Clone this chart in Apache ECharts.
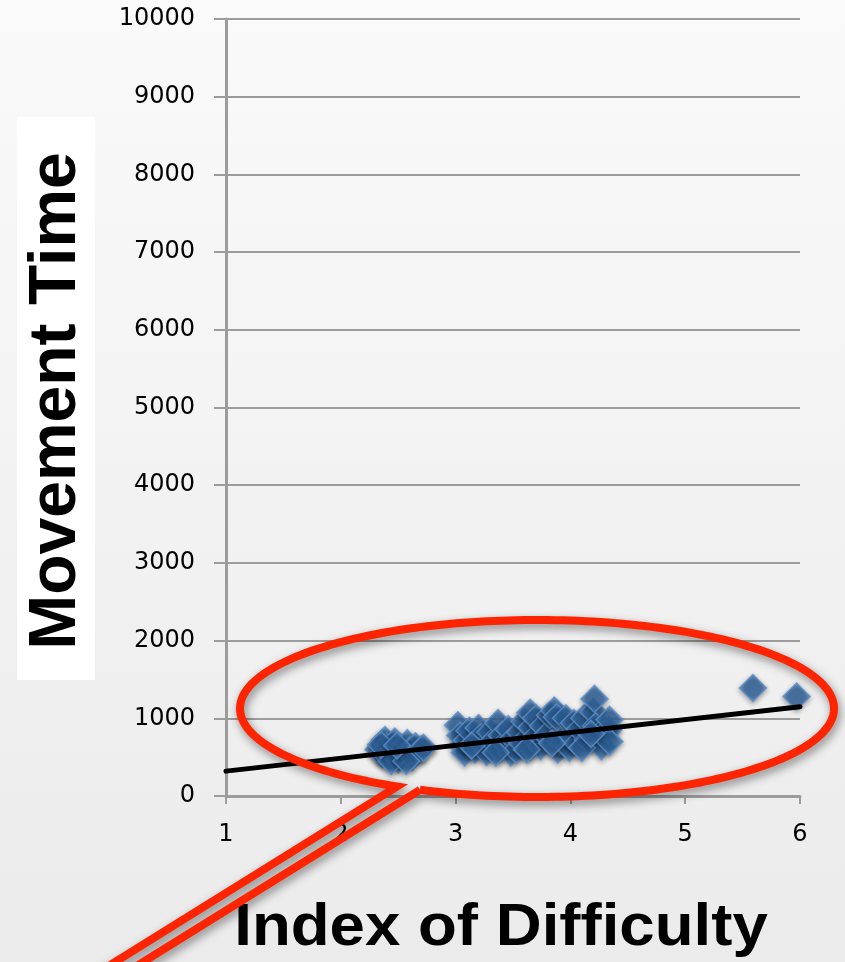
<!DOCTYPE html>
<html>
<head>
<meta charset="utf-8">
<style>html,body{margin:0;padding:0;background:#f4f4f4;}#c{width:845px;height:962px;}</style>
<script src="https://cdn.jsdelivr.net/npm/echarts@6/dist/echarts.min.js"></script>
</head>
<body>
<div id="c"></div>
<script>
// Index of Difficulty (x) vs Movement Time (y)
const groupA = [
  [2.33,600],[2.36,540],[2.385,720],[2.40,640],[2.42,500],[2.45,580],[2.47,700],[2.50,470],
  [2.52,610],[2.55,540],[2.58,680],[2.60,590],[2.62,500],[2.65,640],[2.70,600],[2.72,620],
  [2.44,450],[2.57,450],[2.35,660],[2.49,650]
];
const groupB = [
  [3.02,910],[3.04,780],[3.06,650],[3.08,560],[3.10,720],[3.12,840],
  [3.17,600],[3.20,875],[3.22,760],[3.25,640],[3.27,566],[3.30,820],[3.32,700],
  [3.37,940],[3.38,600],[3.40,780],[3.43,680],[3.46,860],[3.48,560],[3.50,740],
  [3.53,592],[3.56,820],[3.58,680],[3.60,960],[3.65,1070],[3.65,630],[3.66,880],[3.68,740],[3.70,1000],
  [3.74,640],[3.76,900],[3.79,780],[3.82,1040],[3.86,1100],[3.88,1017],[3.89,600],[3.91,700],[3.94,695],[3.96,1000],
  [3.99,620],[4.01,780],[4.03,940],[4.06,680],[4.08,860],[4.12,1000],[4.15,720],[4.20,1080],
  [4.21,1250],[4.22,900],[4.24,746],[4.27,640],[4.30,860],[4.33,850],[4.34,980],[4.34,700],
  [3.14,650],[3.35,560],[3.62,600],[3.84,680],[4.10,620],[4.18,800]
];
const outliers = [[5.59,1390],[5.97,1280]];
const trend = [[1,320],[6,1150]];
const xTicks = [1,2,3,4,5,6];
const yTicks = [0,1000,2000,3000,4000,5000,6000,7000,8000,9000,10000];
const xTitle = 'Index of Difficulty';
const yTitle = 'Movement Time';

const points = groupA.concat(groupB, outliers);

// callout outline (ellipse with a tail), decorative annotation
function calloutPoints() {
  const cx = 537, cy = 708.5, rx = 297, ry = 88.5;
  const a0 = Math.acos((420 - cx) / rx);
  const a1 = Math.acos((397 - cx) / rx);
  const pts = [];
  const n = 240;
  const end = a1 - 2 * Math.PI;
  for (let i = 0; i <= n; i++) {
    const t = a0 + (end - a0) * i / n;
    pts.push([cx + rx * Math.cos(t), cy + ry * Math.sin(t)]);
  }
  pts.push([54, 1000], [82, 1000]);
  pts.push(pts[0]);
  return pts;
}

const chart = echarts.init(document.getElementById('c'), null, {renderer:'canvas'});
const grey = '#9c9c9c';
chart.setOption({
  animation: false,
  backgroundColor: {type:'linear',x:0,y:0,x2:0,y2:1,colorStops:[{offset:0,color:'#fafafa'},{offset:1,color:'#ebebeb'}]},
  grid: {left:226, right:45, top:19, bottom:166},
  xAxis: {
    type:'value', min:xTicks[0], max:xTicks[xTicks.length-1], interval:1,
    axisLine:{show:true,onZero:false,lineStyle:{color:grey,width:3}},
    axisTick:{show:true,inside:false,length:8,lineStyle:{color:grey,width:2}},
    splitLine:{show:false},
    axisLabel:{margin:27,color:'#000',fontFamily:'DejaVu Sans',fontSize:24,
               formatter:function(v){return String(v);}}
  },
  yAxis: {
    type:'value', min:yTicks[0], max:yTicks[yTicks.length-1], interval:1000,
    axisLine:{show:true,lineStyle:{color:grey,width:3}},
    axisTick:{show:true,inside:false,length:12,lineStyle:{color:grey,width:2}},
    splitLine:{show:true,lineStyle:{color:grey,width:2}},
    axisLabel:{margin:31,color:'#000',fontFamily:'DejaVu Sans',fontSize:24,
               formatter:function(v){return String(v);}}
  },
  series: [
    {
      type:'scatter', data:points, symbol:'diamond', symbolSize:27, z:3,
      itemStyle:{
        color:{type:'radial',x:0.5,y:0.5,r:0.5,colorStops:[{offset:0,color:'#2b5e97'},{offset:0.55,color:'#30659f'},{offset:1,color:'#5e95d0'}]},
        borderColor:'#5a8fca', borderWidth:1.5,
        shadowColor:'rgba(0,0,0,0.4)', shadowBlur:5, shadowOffsetY:2
      }
    },
    {
      type:'line', data:trend, symbol:'none', z:4,
      lineStyle:{color:'#000',width:5,cap:'round'}
    }
  ],
  graphic: [
    {type:'rect', z:-1, shape:{x:17,y:117,width:78,height:563}, style:{fill:'#ffffff'}},
    {type:'text', x:57, y:401, rotation:Math.PI/2,
     style:{text:yTitle, font:'bold 66px "Liberation Sans", Arial, sans-serif', fill:'#000', textAlign:'center', textVerticalAlign:'middle'}},
    {type:'text', x:501, y:928, scaleX:1.06,
     style:{text:xTitle, font:'bold 60px "Liberation Sans", Arial, sans-serif', fill:'#000', textAlign:'center', textVerticalAlign:'middle'}},
    {type:'polyline', z:100,
     shape:{points:calloutPoints()},
     style:{fill:null, stroke:'#ff2400', lineWidth:8, lineJoin:'miter', miterLimit:20,
            shadowColor:'rgba(0,0,0,0.45)', shadowBlur:10, shadowOffsetX:2, shadowOffsetY:4}}
  ]
});
</script>
</body>
</html>
